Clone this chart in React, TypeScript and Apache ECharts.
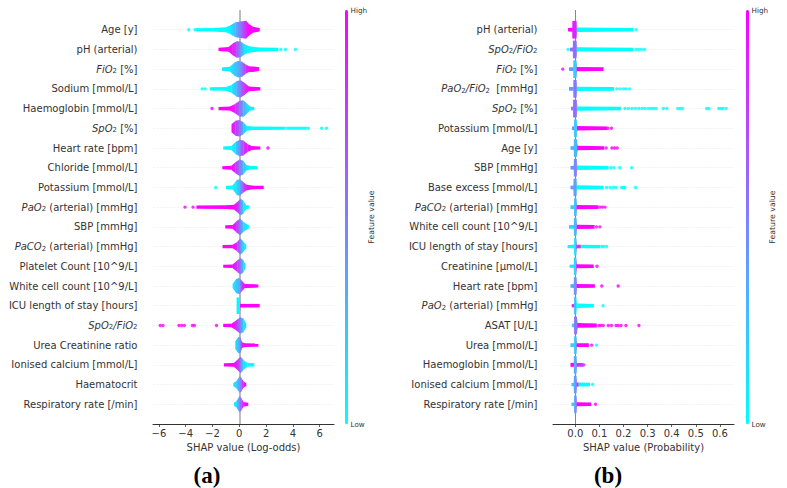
import React, { useEffect, useRef } from "react";
import * as echarts from "echarts";

const CYAN = [0, 255, 255];
const MAGENTA = [255, 0, 255];
const FONT = "DejaVu Sans";
const TEXT = "#333333";

const oddsFeatures = [
  "Age [y]", "pH (arterial)", "FiO2 [%]", "Sodium [mmol/L]", "Haemoglobin [mmol/L]",
  "SpO2 [%]", "Heart rate [bpm]", "Chloride [mmol/L]", "Potassium [mmol/L]",
  "PaO2 (arterial) [mmHg]", "SBP [mmHg]", "PaCO2 (arterial) [mmHg]", "Platelet Count [10^9/L]",
  "White cell count [10^9/L]", "ICU length of stay [hours]", "SpO2/FiO2",
  "Urea Creatinine ratio", "Ionised calcium [mmol/L]", "Haematocrit", "Respiratory rate [/min]",
];
const probFeatures = [
  "pH (arterial)", "SpO2/FiO2", "FiO2 [%]", "PaO2/FiO2  [mmHg]", "SpO2 [%]",
  "Potassium [mmol/L]", "Age [y]", "SBP [mmHg]", "Base excess [mmol/L]",
  "PaCO2 (arterial) [mmHg]", "White cell count [10^9/L]", "ICU length of stay [hours]",
  "Creatinine [µmol/L]", "Heart rate [bpm]", "PaO2 (arterial) [mmHg]", "ASAT [U/L]",
  "Urea [mmol/L]", "Haemoglobin [mmol/L]", "Ionised calcium [mmol/L]", "Respiratory rate [/min]",
];

// Swarm outline of each row: [SHAP value, half height in rows, feature value 0..1]
const oddsProfiles: number[][][] = [
  [[-3.2,.08,0],[-2,.09,0],[-1,.13,0],[-.7,.22,.05],[-.3,.38,.3],[.1,.42,.55],[.5,.46,.85],[.7,.3,1],[1,.15,1],[1.5,.09,1]],
  [[-1.55,.08,1],[-.8,.12,1],[-.5,.3,.9],[-.2,.42,.7],[.1,.4,.4],[.4,.25,.1],[.8,.15,0],[1.5,.1,0],[2.9,.08,0]],
  [[-1.3,.08,.1],[-.7,.12,.05],[-.4,.32,.2],[-.1,.42,.3],[.2,.38,.5],[.45,.25,.8],[.7,.15,.95],[1,.14,1],[1.45,.1,1]],
  [[-2.2,.08,0],[-1,.09,0],[-.6,.2,.05],[-.2,.4,.3],[.1,.44,.55],[.4,.3,.8],[.7,.12,1],[1.55,.08,1]],
  [[-1.55,.08,1],[-.7,.1,1],[-.3,.25,.85],[0,.4,.6],[.3,.42,.35],[.5,.3,.2],[.8,.1,.05],[1.1,.08,0]],
  [[-.58,.2,1],[-.3,.38,.8],[0,.42,.6],[.3,.3,.3],[.55,.12,.05],[1,.09,0],[3.4,.08,0]],
  [[-1.2,.08,.05],[-.6,.1,0],[-.3,.3,.15],[0,.42,.45],[.3,.38,.75],[.6,.2,.95],[.9,.1,1],[1.55,.08,1]],
  [[-1.27,.08,1],[-.6,.1,1],[-.3,.28,.85],[0,.42,.55],[.3,.35,.3],[.5,.15,.1],[.8,.09,0],[1.35,.08,0]],
  [[-1,.08,0],[-.5,.1,0],[-.2,.38,.15],[0,.42,.3],[.25,.3,.6],[.5,.15,.9],[1,.09,1],[1.8,.08,1]],
  [[-3.2,.08,1],[-1,.09,1],[-.4,.12,1],[-.1,.3,.8],[.1,.42,.45],[.3,.32,.15],[.5,.1,0],[.7,.08,0]],
  [[-1.05,.08,1],[-.5,.1,1],[-.2,.3,.8],[.05,.42,.5],[.3,.25,.2],[.7,.08,0]],
  [[-1.25,.08,1],[-.5,.09,1],[-.15,.25,.8],[.05,.42,.5],[.25,.3,.2],[.5,.08,0]],
  [[-1.2,.08,1],[-.5,.09,1],[-.15,.3,.8],[.1,.42,.5],[.3,.3,.2],[.45,.1,0]],
  [[-.5,.1,.05],[-.25,.36,.2],[0,.42,.35],[.2,.25,.75],[.4,.1,1],[1.4,.08,1]],
  [[-.2,.42,.05],[.03,.42,0],[.06,.09,1],[1.5,.09,1]],
  [[-1.2,.08,1],[-.6,.09,1],[-.25,.25,.85],[.05,.42,.5],[.3,.35,.2],[.5,.1,0]],
  [[-.3,.2,.1],[-.1,.4,.25],[.05,.42,.4],[.2,.15,.85],[.4,.09,1],[1.4,.08,1]],
  [[-1.15,.08,1],[-.4,.09,1],[-.1,.3,.8],[.1,.42,.5],[.3,.25,.15],[.6,.09,0],[1.1,.08,0]],
  [[-.45,.08,.05],[-.2,.2,.2],[0,.42,.4],[.15,.35,.6],[.3,.15,.95],[.5,.08,1]],
  [[-.4,.08,.05],[-.2,.18,.15],[0,.42,.45],[.15,.3,.7],[.3,.12,.95],[.65,.08,1]],
];
const probProfiles: number[][][] = [
  [[-.03,.09,1],[-.012,.1,1],[-.012,.45,.9],[.004,.45,.85],[.007,.11,0],[.24,.09,0]],
  [[-.022,.09,.6],[-.01,.1,.6],[-.01,.45,.55],[.004,.45,.6],[.007,.11,0],[.24,.09,0]],
  [[-.026,.09,.4],[-.008,.1,.4],[-.008,.45,.2],[.004,.45,.2],[.006,.11,1],[.116,.09,1]],
  [[-.026,.09,.4],[-.008,.1,.4],[-.008,.45,.5],[.004,.45,.6],[.007,.11,0],[.16,.09,0]],
  [[-.018,.09,.5],[-.009,.1,.5],[-.009,.45,.6],[.005,.45,.55],[.008,.11,0],[.188,.09,0]],
  [[-.014,.09,.4],[-.005,.1,.4],[-.005,.45,.2],[.005,.45,.25],[.007,.11,1],[.13,.09,1]],
  [[-.02,.09,.3],[-.006,.1,.3],[-.006,.45,.25],[.006,.45,.3],[.008,.11,1],[.119,.09,1]],
  [[-.02,.09,.4],[-.006,.1,.4],[-.006,.45,.45],[.005,.45,.5],[.007,.11,0],[.137,.09,0]],
  [[-.02,.09,.4],[-.007,.1,.4],[-.007,.45,.35],[.004,.45,.4],[.006,.11,0],[.116,.09,0]],
  [[-.02,.09,.2],[-.005,.1,.2],[-.005,.45,.25],[.004,.45,.25],[.006,.11,1],[.095,.09,1]],
  [[-.026,.09,.15],[-.006,.1,.15],[-.006,.45,.25],[.004,.45,.25],[.006,.11,1],[.079,.09,1]],
  [[-.032,.08,0],[-.005,.09,0],[-.005,.45,.1],[.003,.45,.15],[.005,.09,.8],[.02,.09,.8],[.025,.09,0],[.102,.08,0]],
  [[-.024,.08,.1],[-.006,.09,.1],[-.006,.45,.15],[.003,.45,.15],[.005,.1,1],[.075,.09,1]],
  [[-.02,.09,.35],[-.006,.1,.35],[-.006,.45,.4],[.004,.45,.4],[.006,.1,1],[.08,.09,1]],
  [[-.015,.08,.9],[-.005,.09,.9],[-.005,.45,.25],[.003,.45,.25],[.005,.11,0],[.076,.09,0]],
  [[-.014,.08,.2],[-.005,.1,.2],[-.005,.45,.55],[.006,.45,.5],[.008,.12,1],[.088,.1,1]],
  [[-.02,.09,.2],[-.005,.1,.2],[-.005,.45,.2],[.004,.45,.25],[.006,.1,1],[.055,.09,1]],
  [[-.02,.1,1],[-.006,.1,1],[-.006,.45,.3],[.004,.45,.3],[.006,.1,.85],[.033,.09,.7]],
  [[-.016,.08,.2],[-.006,.09,.2],[-.006,.45,.35],[.004,.45,.4],[.006,.1,.9],[.012,.1,.9],[.014,.1,0],[.06,.09,0]],
  [[-.016,.08,.25],[-.005,.09,.25],[-.005,.45,.35],[.004,.45,.4],[.006,.1,1],[.065,.09,1]],
];

// Outlying points of each row: [SHAP value, feature value 0..1]
const oddsDots: number[][][] = [
  [[-3.77,0],[-3.3,0],[-3.15,0]],
  [[3.1,0],[3.45,0],[4.2,0]],
  [],
  [[-2.77,0],[-2.55,0]],
  [[-2.04,1]],
  [[3.6,0],[3.75,0],[3.9,0],[4.05,0],[4.2,0],[4.35,0],[4.5,0],[4.65,0],[4.8,0],[4.95,0],[5.15,0],[6.14,0],[6.5,0]],
  [[2.14,1]],
  [],
  [[-1.76,0]],
  [[-4.05,1],[-3.45,1]],
  [], [], [], [], [],
  [[-5.9,1],[-5.7,1],[-4.5,1],[-4.3,1],[-4.1,1],[-3.5,1],[-3.35,1],[-1.7,1]],
  [], [], [], [],
];
const probDots: number[][][] = [
  [[.252,0]],
  [[-.03,0],[.252,0],[.263,0],[.275,0],[.288,0]],
  [[-.052,1]],
  [[.172,0],[.185,0],[.2,0],[.21,0],[.225,0]],
  [[.206,0],[.22,0],[.235,0],[.25,0],[.265,0],[.278,0],[.29,0],[.303,0],[.315,0],[.325,0],[.335,0],[.365,0],[.38,0],[.425,0],[.435,0],[.445,0],[.545,0],[.555,0],[.595,0],[.605,0],[.612,0],[.625,0]],
  [[.135,1],[.15,1]],
  [[.128,1],[.152,1],[.163,1],[.174,1]],
  [[.147,0],[.16,0],[.184,0],[.234,0]],
  [[.13,0],[.144,0],[.158,0],[.169,0],[.192,0],[.2,0],[.206,0],[.25,0]],
  [[.102,1],[.112,1],[.123,1]],
  [[.088,1],[.102,1]],
  [[.11,0],[.118,0],[.13,0]],
  [[.09,1]],
  [[.11,1],[.178,1]],
  [[.115,0]],
  [[.098,1],[.106,1],[.116,1],[.137,1],[.15,1],[.169,1],[.178,1],[.19,1],[.21,1],[.264,1]],
  [[.068,1],[.088,0]],
  [[.036,.8]],
  [[.072,0]],
  [[.084,1]],
];

const oddsTicks = [-6, -4, -2, 0, 2, 4, 6];
const probTicks = [0, 0.1, 0.2, 0.3, 0.4, 0.5, 0.6];

function mix(c: number) {
  const ch = (i: number) => Math.round(CYAN[i] + (MAGENTA[i] - CYAN[i]) * c);
  return `rgb(${ch(0)},${ch(1)},${ch(2)})`;
}

function labelMarkup(v: string) {
  if (!v) return "";
  return v
    .split(/((?:PaO|FiO|SpO|PaCO)2(?:\/(?:FiO)2)?)/)
    .filter(Boolean)
    .map((part) =>
      /^(PaO|FiO|SpO|PaCO)2/.test(part)
        ? part.split(/(?<=2)/).map((p) => {
            const base = p.slice(0, -1);
            return `{i|${base}}{s|2}`;
          }).join("")
        : `{n|${part}}`
    )
    .join("");
}

const richStyles = {
  n: { fontFamily: FONT, fontSize: 10, color: TEXT },
  i: { fontFamily: FONT, fontSize: 10, color: TEXT, fontStyle: "italic" },
  s: { fontFamily: FONT, fontSize: 7, color: TEXT, verticalAlign: "bottom", padding: [4, 0, 0, 0] },
};

function swarmData(profiles: number[][][]) {
  const out: number[][] = [];
  profiles.forEach((stations, row) => {
    for (let i = 0; i + 1 < stations.length; i++) {
      const a = stations[i];
      const b = stations[i + 1];
      out.push([a[0], row + 1, a[1], a[2], b[0], b[1], b[2]]);
    }
  });
  return out;
}

function dotData(dots: number[][][]) {
  const out: number[][] = [];
  dots.forEach((list, row) => list.forEach((d) => out.push([d[0], row + 1, d[1]])));
  return out;
}

function renderSwarm(params: any, api: any) {
  const rowPx = params.coordSys.height / 21;
  const row = api.value(1);
  const p0 = api.coord([api.value(0), row]);
  const p1 = api.coord([api.value(4), row]);
  const h0 = api.value(2) * rowPx;
  const h1 = api.value(5) * rowPx;
  const x1 = Math.max(p1[0] + 0.3, p0[0] + 0.4);
  return {
    type: "polygon",
    shape: { points: [[p0[0], p0[1] - h0], [x1, p1[1] - h1], [x1, p1[1] + h1], [p0[0], p0[1] + h0]] },
    style: {
      fill: new echarts.graphic.LinearGradient(0, 0, 1, 0, [
        { offset: 0, color: mix(api.value(3)) },
        { offset: 1, color: mix(api.value(6)) },
      ]),
    },
  };
}

export default function App() {
  const ref = useRef<HTMLDivElement>(null);
  useEffect(() => {
    document.body.style.margin = "0";
    const chart = echarts.init(ref.current!, null, { renderer: "svg" });
    const panel = (i: number, names: string[], left: number) => ({
      yAxis: {
        gridIndex: i,
        type: "category",
        inverse: true,
        boundaryGap: false,
        data: ["", ...names, ""],
        axisLine: { show: false },
        axisTick: { show: false },
        axisLabel: {
          interval: 0,
          margin: 15.5,
          formatter: (v: string) => labelMarkup(v),
          rich: richStyles,
        },
        splitLine: {
          show: true,
          interval: (idx: number) => idx > 0 && idx < 21,
          lineStyle: { color: "#e8e8e8", type: "dotted", width: 0.7 },
        },
      },
      grid: { left, width: 181, top: 10, height: 414 },
    });
    const a = panel(0, oddsFeatures, 153);
    const b = panel(1, probFeatures, 553);
    const xAxis = (i: number, min: number, max: number, ticks: number[], name: string, fmt: (v: number) => string) => ({
      gridIndex: i,
      type: "value",
      min,
      max,
      name,
      nameLocation: "middle",
      nameGap: 16,
      nameTextStyle: { fontFamily: FONT, fontSize: 10, color: TEXT },
      axisLine: { show: true, onZero: false, lineStyle: { color: "#333333", width: 1 } },
      axisTick: { show: true, length: 3, customValues: ticks, lineStyle: { color: "#333333", width: 0.8 } },
      axisLabel: { customValues: ticks, margin: 4, fontFamily: FONT, fontSize: 10, color: TEXT, formatter: fmt, hideOverlap: false },
      splitLine: { show: false },
    });
    const zero = (color: string, width: number) => ({
      silent: true,
      symbol: "none",
      z: 1,
      animation: false,
      label: { show: false },
      lineStyle: { color, width, type: "solid" },
      data: [{ xAxis: 0 }],
    });
    const visual = (series: number, left: number) => ({
      type: "continuous",
      seriesIndex: series,
      dimension: 2,
      min: 0,
      max: 1,
      left,
      top: 10,
      padding: 0,
      itemWidth: 3,
      itemHeight: 414,
      calculable: false,
      showLabel: false,
      text: undefined,
      inRange: { color: ["#00ffff", "#ff00ff"] },
    });
    const small = (x: number, y: number, text: string) => ({
      type: "text",
      x,
      y,
      style: { text, fontFamily: FONT, fontSize: 7.2, fill: TEXT, textVerticalAlign: "middle" },
    });
    const featureLabel = (x: number) => ({
      type: "text",
      x,
      y: 217,
      rotation: Math.PI / 2,
      style: { text: "Feature value", fontFamily: FONT, fontSize: 7.8, fill: TEXT, textAlign: "center", textVerticalAlign: "middle" },
    });
    const panelLabel = (x: number, text: string) => ({
      type: "text",
      x,
      y: 475,
      style: { text, fontFamily: "Liberation Serif", fontWeight: "bold", fontSize: 23, fill: "#000000", textAlign: "center", textVerticalAlign: "middle" },
    });
    chart.setOption({
      animation: false,
      grid: [a.grid, b.grid],
      xAxis: [
        xAxis(0, -6.44, 7.07, oddsTicks, "SHAP value (Log-odds)", (v) => String(v).replace("-", "\u2212")),
        xAxis(1, -0.0925, 0.6585, probTicks, "SHAP value (Probability)", (v) => v.toFixed(1)),
      ],
      yAxis: [a.yAxis, b.yAxis],
      visualMap: [visual(1, 345), visual(3, 746)],
      series: [
        {
          type: "custom", xAxisIndex: 0, yAxisIndex: 0, z: 3, clip: false,
          encode: { x: [0, 4], y: 1 },
          renderItem: renderSwarm, data: swarmData(oddsProfiles),
          markLine: zero("#aaaaaa", 1.6),
        },
        {
          type: "scatter", xAxisIndex: 0, yAxisIndex: 0, z: 3, symbolSize: 3.4,
          encode: { x: 0, y: 1 }, data: dotData(oddsDots),
        },
        {
          type: "custom", xAxisIndex: 1, yAxisIndex: 1, z: 3, clip: false,
          encode: { x: [0, 4], y: 1 },
          renderItem: renderSwarm, data: swarmData(probProfiles),
          markLine: zero("#888888", 1),
        },
        {
          type: "scatter", xAxisIndex: 1, yAxisIndex: 1, z: 3, symbolSize: 3.4,
          encode: { x: 0, y: 1 }, data: dotData(probDots),
        },
      ],
      graphic: [
        small(350.5, 10, "High"), small(350.5, 424, "Low"),
        small(751.5, 10, "High"), small(751.5, 424, "Low"),
        featureLabel(371.5), featureLabel(772),
        panelLabel(207, "(a)"), panelLabel(608, "(b)"),
      ],
    });
    return () => chart.dispose();
  }, []);
  return <div ref={ref} style={{ position: "absolute", left: 0, top: 0, width: 787, height: 488 }} />;
}
